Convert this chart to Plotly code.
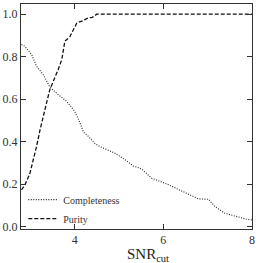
import plotly.graph_objects as go

comp_x = [2.80, 2.87, 3.03, 3.14, 3.29, 3.44, 3.63, 3.82, 4.00, 4.10, 4.20, 4.31, 4.46, 4.57,
          4.80, 4.91, 5.14, 5.32, 5.51, 5.74, 6.08, 6.38, 6.60, 6.79, 7.02, 7.17, 7.39, 7.62, 7.88, 8.00]
comp_y = [0.857, 0.85, 0.81, 0.755, 0.716, 0.658, 0.621, 0.59, 0.543, 0.50, 0.445, 0.425, 0.39, 0.377,
          0.356, 0.346, 0.315, 0.286, 0.272, 0.228, 0.201, 0.173, 0.15, 0.131, 0.129, 0.094, 0.063, 0.05, 0.035, 0.032]

pur_x = [2.80, 2.88, 2.99, 3.07, 3.14, 3.22, 3.44, 3.63, 3.71, 3.78, 3.89, 4.05, 4.16, 4.31, 4.40, 4.50, 5.0, 6.0, 7.0, 8.0]
pur_y = [0.173, 0.197, 0.25, 0.315, 0.377, 0.456, 0.645, 0.74, 0.786, 0.873, 0.893, 0.959, 0.967, 0.983, 0.985, 1.0, 1.0, 1.0, 1.0, 1.0]

xticks = [4, 6, 8]
yticks = [0.0, 0.2, 0.4, 0.6, 0.8, 1.0]

font = "Liberation Serif, DejaVu Serif, serif"
fig = go.Figure()
fig.add_trace(go.Scatter(x=comp_x, y=comp_y, mode="lines", name="Completeness",
                         line=dict(color="#222", width=1.1, dash="1px,1.5px")))
fig.add_trace(go.Scatter(x=pur_x, y=pur_y, mode="lines", name="Purity",
                         line=dict(color="#111", width=1.3, dash="4px,2px")))

axis_common = dict(showgrid=False, zeroline=False, showline=True, linecolor="#333", linewidth=1,
                   mirror="ticks", ticks="inside", ticklen=5, tickcolor="#333",
                   tickfont=dict(family=font, size=12, color="#333"))
fig.update_xaxes(range=[2.79, 8.002], tickvals=xticks, ticktext=[str(v) for v in xticks],
                 **axis_common)
fig.update_yaxes(range=[-0.011, 1.048], tickvals=yticks, ticktext=[f"{v:.1f}" for v in yticks],
                 **axis_common)
fig.add_annotation(text="SNR<sub>cut</sub>", xref="paper", yref="paper", x=0.55, y=-0.065,
                   xanchor="center", yanchor="top", showarrow=False,
                   font=dict(family=font, size=15, color="#222"))
fig.update_layout(width=260, height=263, margin=dict(l=21, r=8, t=4, b=34),
                  plot_bgcolor="white", paper_bgcolor="white",
                  legend=dict(x=0.01, y=0.195, xanchor="left", yanchor="top", bgcolor="rgba(0,0,0,0)",
                              font=dict(family=font, size=10, color="#333"), itemwidth=30,
                              tracegroupgap=0),
                  showlegend=True)
fig.write_html("out.html", config={"displayModeBar": False},
               post_script="document.body.style.margin='0';document.body.style.overflow='hidden';")
